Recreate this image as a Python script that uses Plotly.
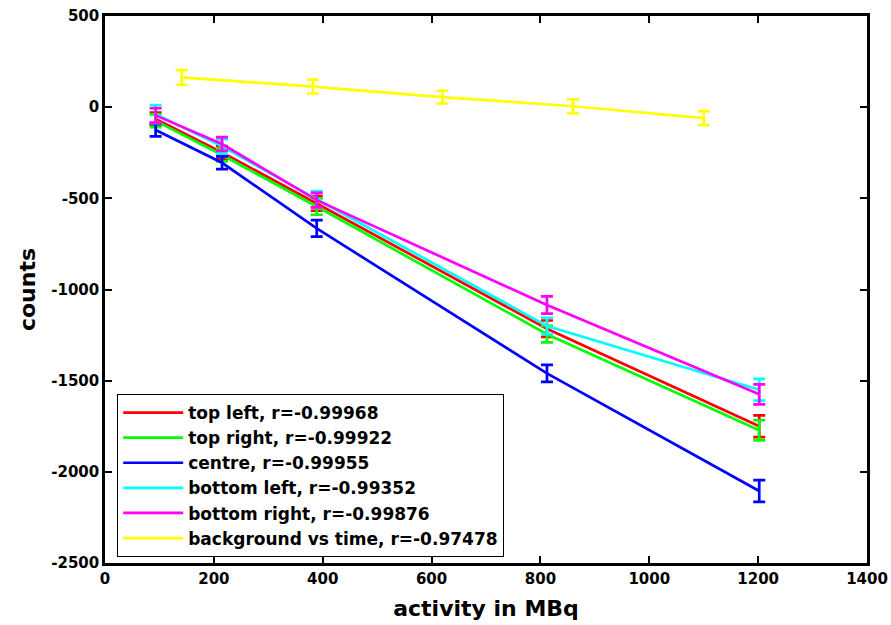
import plotly.graph_objects as go

activity = [93, 215, 389, 812, 1202]
top_left = [-65, -248, -528, -1215, -1750]
top_left_err = [35, 35, 40, 45, 60]
top_right = [-75, -262, -545, -1245, -1772]
top_right_err = [35, 35, 45, 45, 55]
centre = [-125, -305, -665, -1460, -2105]
centre_err = [35, 35, 45, 47, 60]
bottom_left = [-38, -215, -505, -1200, -1550]
bottom_left_err = [50, 40, 45, 45, 60]
bottom_right = [-45, -202, -510, -1085, -1575]
bottom_right_err = [40, 38, 40, 47, 55]
bg_time = [141, 382, 620, 860, 1100]
background = [163, 113, 55, 5, -60]
background_err = [40, 38, 35, 38, 38]

x_ticks = [0, 200, 400, 600, 800, 1000, 1200, 1400]
x_tick_labels = ["0", "200", "400", "600", "800", "1000", "1200", "1400"]
y_ticks = [-2500, -2000, -1500, -1000, -500, 0, 500]
y_tick_labels = ["-2500", "-2000", "-1500", "-1000", "-500", "0", "500"]

series = [
    ("top left, r=-0.99968", activity, top_left, top_left_err, "#ff0000"),
    ("top right, r=-0.99922", activity, top_right, top_right_err, "#00ff00"),
    ("centre, r=-0.99955", activity, centre, centre_err, "#0000ff"),
    ("bottom left, r=-0.99352", activity, bottom_left, bottom_left_err, "#00ffff"),
    ("bottom right, r=-0.99876", activity, bottom_right, bottom_right_err, "#ff00ff"),
    ("background vs time, r=-0.97478", bg_time, background, background_err, "#ffff00"),
]

fig = go.Figure()
for name, xs, ys, es, col in series:
    fig.add_trace(go.Scatter(
        x=xs, y=ys, name=name, mode="lines",
        line=dict(color=col, width=2.7),
        error_y=dict(type="data", array=es, visible=True, color=col, thickness=2.7, width=6),
    ))

font = "DejaVu Sans"
axis_common = dict(
    showgrid=False, zeroline=False, showline=True, linecolor="black", linewidth=2.5,
    mirror="ticks", ticks="inside", ticklen=7, tickwidth=2, tickcolor="black",
    automargin=False,
    tickfont=dict(family=font, size=15, color="black", weight="bold"),
)
fig.update_layout(
    width=891, height=625,
    margin=dict(l=105, r=24, t=16, b=62),
    paper_bgcolor="white", plot_bgcolor="white",
    xaxis=dict(range=[0, 1400], tickmode="array", tickvals=x_ticks, ticktext=x_tick_labels,
               title=dict(text="activity in MBq", font=dict(family=font, size=22, color="black", weight="bold"), standoff=14),
               **axis_common),
    yaxis=dict(range=[-2500, 500], tickmode="array", tickvals=y_ticks, ticktext=y_tick_labels,
               title=dict(text="counts", font=dict(family=font, size=22, color="black", weight="bold"), standoff=10),
               **axis_common),
    legend=dict(x=0.016, y=0.011, xanchor="left", yanchor="bottom",
                bgcolor="white", bordercolor="black", borderwidth=1,
                font=dict(family=font, size=17, color="black", weight="bold"),
                tracegroupgap=0, itemwidth=60),
    showlegend=True,
)
fig.write_html("out.html")
